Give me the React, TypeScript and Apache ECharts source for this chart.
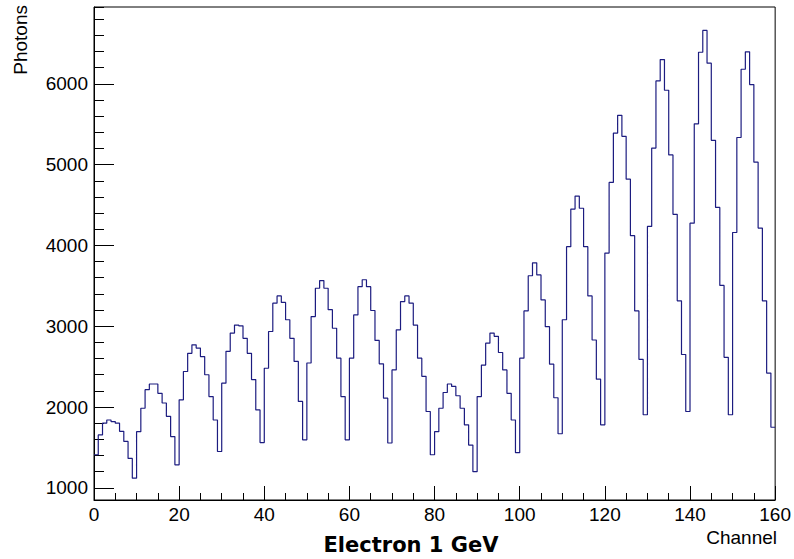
import React, { useEffect, useRef } from "react";
import * as echarts from "echarts";

const photons: number[] = [
  1410, 1655, 1800, 1840, 1820, 1800, 1700, 1575, 1365, 1120,
  1695, 1985, 2215, 2285, 2285, 2170, 2050, 1885, 1635, 1285,
  2090, 2440, 2665, 2770, 2730, 2625, 2400, 2130, 1840, 1450,
  2295, 2690, 2915, 3015, 3005, 2850, 2665, 2340, 1965, 1560,
  2480, 2935, 3285, 3375, 3295, 3080, 2850, 2565, 2070, 1595,
  2545, 3120, 3470, 3565, 3470, 3205, 2975, 2605, 2130, 1595,
  2605, 3140, 3490, 3575, 3490, 3195, 2825, 2535, 2110, 1555,
  2460, 2955, 3305, 3375, 3285, 3015, 2605, 2380, 1945, 1410,
  1695, 1985, 2180, 2285, 2255, 2140, 1985, 1780, 1530, 1200,
  2130, 2520, 2790, 2915, 2875, 2675, 2460, 2170, 1840, 1435,
  2605, 3190, 3625, 3785, 3635, 3325, 2995, 2530, 2115, 1670,
  3080, 3985, 4450, 4610, 4460, 3985, 3375, 2830, 2345, 1780,
  3905, 4780, 5390, 5610, 5350, 4820, 4120, 3190, 2590, 1905,
  4235, 5205, 6035, 6300, 5920, 5120, 4385, 3315, 2650, 1945,
  4275, 5505, 6390, 6660, 6255, 5300, 4470, 3505, 2615, 1905,
  4160, 5335, 6180, 6395, 5990, 5030, 4215, 3315, 2420, 1750,
];

const channelMin = 0;
const channelMax = 160;
const yMin = 850;
const yMax = 6950;

const titleText = "Electron 1 GeV";
const xTitle = "Channel";
const yTitle = "Photons";

const labelFont = "Liberation Sans, Arial, Helvetica, sans-serif";

export default function App() {
  const ref = useRef<HTMLDivElement>(null);

  useEffect(() => {
    if (!ref.current) return;
    const chart = echarts.init(ref.current, undefined, { renderer: "svg" });

    const stepData: number[][] = photons.map((v, i) => [channelMin + i, v]);
    stepData.push([channelMin + photons.length, photons[photons.length - 1]]);

    const lineColor = "#000000";

    chart.setOption({
      animation: false,
      backgroundColor: "#ffffff",
      grid: {
        left: 94,
        top: 7,
        right: 17,
        bottom: 59,
        show: true,
        borderColor: lineColor,
        borderWidth: 1,
        backgroundColor: "transparent",
        containLabel: false,
      },
      xAxis: {
        type: "value",
        min: channelMin,
        max: channelMax,
        interval: 20,
        axisLine: { show: true, lineStyle: { color: lineColor, width: 1 } },
        axisTick: { show: true, inside: true, length: 14, lineStyle: { color: lineColor, width: 1 } },
        minorTick: { show: true, splitNumber: 4, length: 7, lineStyle: { color: lineColor, width: 1 } },
        splitLine: { show: false },
        minorSplitLine: { show: false },
        axisLabel: {
          color: "#000",
          fontSize: 19,
          fontFamily: labelFont,
          margin: 5,
        },
      },
      yAxis: [
        {
          type: "value",
          position: "left",
          min: yMin,
          max: yMax,
          splitNumber: 5,
          axisLine: { show: true, lineStyle: { color: lineColor, width: 1 } },
          axisTick: { show: true, inside: true, length: 20, lineStyle: { color: lineColor, width: 1 } },
          splitLine: { show: false },
          axisLabel: {
            color: "#000",
            fontSize: 19,
            fontFamily: labelFont,
            margin: 6,
            showMinLabel: false,
            showMaxLabel: false,
            formatter: (v: number) => (v % 1000 === 0 ? String(v) : ""),
          },
        },
        {
          type: "value",
          position: "left",
          offset: 0,
          min: yMin,
          max: yMax,
          splitNumber: 30,
          axisLine: { show: false },
          axisTick: { show: true, inside: true, length: 10, lineStyle: { color: lineColor, width: 1 } },
          splitLine: { show: false },
          axisLabel: { show: false },
        },
      ],
      series: [
        {
          type: "line",
          step: "end",
          data: stepData,
          showSymbol: false,
          symbol: "none",
          xAxisIndex: 0,
          yAxisIndex: 0,
          lineStyle: { color: "#1c1c80", width: 1.2 },
          emphasis: { disabled: true },
        },
      ],
      graphic: [
        {
          type: "text",
          x: 20,
          y: 5,
          rotation: Math.PI / 2,
          style: {
            text: yTitle,
            fill: "#000",
            fontSize: 19,
            fontFamily: labelFont,
            align: "right",
            verticalAlign: "middle",
          },
        },
        {
          type: "text",
          x: 777,
          y: 537,
          style: {
            text: xTitle,
            fill: "#000",
            fontSize: 19,
            fontFamily: labelFont,
            align: "right",
            verticalAlign: "middle",
          },
        },
        {
          type: "text",
          x: 411,
          y: 545,
          style: {
            text: titleText,
            fill: "#000",
            fontSize: 21,
            fontWeight: "bold",
            fontFamily: "DejaVu Sans, Verdana, sans-serif",
            align: "center",
            verticalAlign: "middle",
          },
        },
      ],
    });

    return () => {
      chart.dispose();
    };
  }, []);

  return (
    <div
      ref={ref}
      style={{ position: "fixed", left: 0, top: 0, width: 794, height: 559, background: "#fff" }}
    />
  );
}
